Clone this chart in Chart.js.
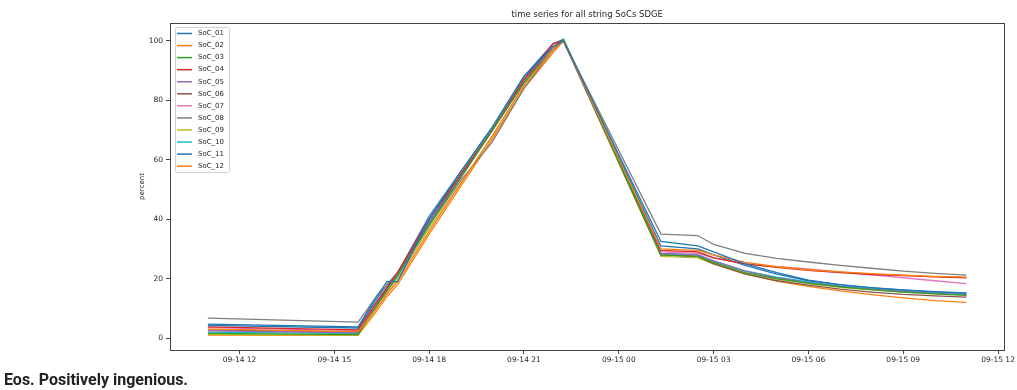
<!DOCTYPE html>
<html>
<head>
<meta charset="utf-8">
<script src="https://cdn.jsdelivr.net/npm/chart.js@4.4.0/dist/chart.umd.min.js"></script>
<style>
  html, body { margin: 0; padding: 0; background: #fff; }
  #wrap { position: relative; width: 1017px; height: 390px; }
  #footer { position: absolute; left: 4px; top: 370px; font: 700 16px Roboto, sans-serif; color: #222; }
</style>
</head>
<body>
<div id="wrap">
  <canvas id="socChart" width="1017" height="390"></canvas>
  <div id="footer">Eos. Positively ingenious.</div>
</div>
<script>
// timestamps (MM-DD HH:MM)
const times = ['09-14 11:00', '09-14 15:45', '09-14 16:20', '09-14 16:40', '09-14 17:00', '09-14 18:00',
    '09-14 19:00', '09-14 20:00', '09-14 21:00', '09-14 21:55', '09-14 22:15', '09-15 01:20',
    '09-15 02:30', '09-15 03:00', '09-15 04:00', '09-15 05:00', '09-15 06:00', '09-15 07:00',
    '09-15 08:00', '09-15 09:00', '09-15 10:00', '09-15 11:00'];

const tickLabels = ['09-14 12', '09-14 15', '09-14 18', '09-14 21', '09-15 00', '09-15 03', '09-15 06', '09-15 09', '09-15 12'];
const yTicks = [0, 20, 40, 60, 80, 100];

const soc01 = [4.7, 3.8, 14, 19, 19, 40, 56, 71, 88, 98, 100, 32.5, 31, 29, 25, 22, 19.5, 18, 17, 16.2, 15.6, 15.2];
const soc02 = [3.0, 2.2, 10, 15, 19, 36, 52, 68, 85, 97, 100, 30, 29.5, 28, 25.5, 24, 23, 22.3, 21.7, 21.2, 20.8, 20.5];
const soc03 = [1.6, 1.2, 11, 16, 21, 38, 54, 70, 86, 97, 100.5, 28, 27.5, 25.5, 22, 20, 18.5, 17.2, 16.3, 15.5, 14.9, 14.4];
const soc04 = [3.8, 2.8, 12, 17, 22, 40, 55, 70, 87, 99, 100, 29.5, 29, 27, 25, 23.8, 22.8, 22, 21.4, 21, 20.6, 20.3];
const soc05 = [2.4, 1.8, 11, 16, 21, 39, 54, 70, 87, 98, 100, 28.5, 28, 26, 22.5, 20.3, 18.7, 17.4, 16.5, 15.7, 15.1, 14.6];
const soc06 = [2.8, 2.0, 11, 17, 22, 39, 55, 70, 86, 98, 100, 28, 27.5, 25, 21.5, 19.3, 17.8, 16.5, 15.5, 14.7, 14.2, 13.8];
const soc07 = [3.5, 2.5, 12, 17, 22, 39, 54, 70, 86, 99, 100, 29, 28.5, 27, 25, 24, 23.3, 22.3, 21.3, 20.3, 19.3, 18.3];
const soc08 = [6.7, 5.4, 14, 18, 22, 38, 53, 66, 84, 97, 100, 35, 34.5, 31.5, 28.5, 26.8, 25.6, 24.5, 23.5, 22.5, 21.8, 21.2];
const soc09 = [1.2, 1.0, 10, 15, 20, 37, 52, 68, 85, 97, 100, 27.5, 27, 25, 21.8, 19.8, 18.3, 17.1, 16.2, 15.5, 14.9, 14.5];
const soc10 = [2.0, 1.5, 11, 16, 21, 38, 55, 70, 86, 97, 100, 28.5, 28, 26, 22.6, 20.5, 18.9, 17.6, 16.7, 15.9, 15.3, 14.9];
const soc11 = [4.3, 3.4, 13, 18, 22, 41, 56, 71, 88, 99, 100.5, 31, 30, 28, 24.5, 21.5, 19.3, 17.9, 16.9, 16.1, 15.5, 15.1];
const soc12 = [1.0, 0.9, 9, 14, 18, 35, 51, 67, 84, 96, 100, 28, 27.5, 25.5, 21.7, 19.2, 17.4, 15.9, 14.6, 13.5, 12.6, 12];

const seriesNames = ['SoC_01', 'SoC_02', 'SoC_03', 'SoC_04', 'SoC_05', 'SoC_06', 'SoC_07', 'SoC_08', 'SoC_09', 'SoC_10', 'SoC_11', 'SoC_12'];
const seriesValues = [soc01, soc02, soc03, soc04, soc05, soc06, soc07, soc08, soc09, soc10, soc11, soc12];

// matplotlib tab10 cycle
const palette = ['#1f77b4', '#ff7f0e', '#2ca02c', '#d62728', '#9467bd', '#8c564b', '#e377c2', '#7f7f7f', '#bcbd22', '#17becf'];

// hours since 09-14 00:00
function toHours(s) {
    const [md, hm] = s.split(' ');
    const day = parseInt(md.split('-')[1], 10) - 14;
    const [h, m] = (hm.includes(':') ? hm : hm + ':00').split(':').map(Number);
    return day * 24 + h + m / 60;
}

const xs = times.map(toHours);
const tickPos = tickLabels.map(toHours);

const datasets = seriesNames.map((name, i) => ({
    label: name,
    data: seriesValues[i].map((v, j) => ({ x: xs[j], y: v })),
    borderColor: palette[i % 10],
    borderWidth: 1.3,
    pointRadius: 0,
    tension: 0,
    fill: false
}));

const txt = '#262626';
const axisFont = { family: 'DejaVu Sans', size: 7.5 };

// frame around the axes + legend box inside plot (matplotlib look)
const mplDecor = {
    id: 'mplDecor',
    afterDraw(chart) {
        const { ctx, chartArea: a } = chart;
        ctx.save();
        ctx.strokeStyle = '#444';
        ctx.lineWidth = 1;
        ctx.strokeRect(Math.round(a.left) + 0.5, Math.round(a.top) + 0.5, Math.round(a.right - a.left), Math.round(a.bottom - a.top));

        // legend
        const bx = a.left + 5, by = a.top + 4, bw = 54, bh = 145;
        ctx.fillStyle = 'rgba(255,255,255,0.85)';
        ctx.strokeStyle = '#d0d0d0';
        ctx.beginPath();
        ctx.roundRect(bx + 0.5, by + 0.5, bw, bh, 2);
        ctx.fill();
        ctx.stroke();
        ctx.font = '7px "DejaVu Sans"';
        ctx.textBaseline = 'middle';
        chart.data.datasets.forEach((ds, i) => {
            const y = by + 6.5 + i * 12.06;
            ctx.strokeStyle = ds.borderColor;
            ctx.lineWidth = 1.5;
            ctx.beginPath();
            ctx.moveTo(bx + 2, y);
            ctx.lineTo(bx + 17, y);
            ctx.stroke();
            ctx.fillStyle = txt;
            ctx.fillText(ds.label, bx + 23, y);
        });
        ctx.restore();
    }
};

new Chart(document.getElementById('socChart'), {
    type: 'line',
    data: { datasets },
    plugins: [mplDecor],
    options: {
        responsive: false,
        animation: false,
        layout: { padding: { left: 130, right: 9, top: 0, bottom: 0 } },
        plugins: {
            legend: { display: false },
            tooltip: { enabled: false },
            title: {
                display: true,
                text: 'time series for all string SoCs SDGE',
                color: txt,
                fullSize: false,
                font: { family: 'DejaVu Sans', size: 8.5, weight: 'normal' },
                padding: { top: 10, bottom: 2.8 }
            }
        },
        scales: {
            x: {
                type: 'linear',
                min: 9.8,
                max: 36.2,
                afterBuildTicks: (s) => { s.ticks = tickPos.map(v => ({ value: v })); },
                afterFit: (s) => { s.height = 40; },
                ticks: {
                    color: txt,
                    font: axisFont,
                    maxRotation: 0,
                    padding: 2,
                    callback: (v) => tickLabels[tickPos.indexOf(v)]
                },
                grid: { drawOnChartArea: false, drawTicks: true, tickLength: 4, tickColor: '#444' },
                border: { color: '#444' }
            },
            y: {
                min: -4,
                max: 106,
                afterBuildTicks: (s) => { s.ticks = yTicks.map(v => ({ value: v })); },
                afterFit: (s) => { s.width = 40; },
                ticks: { color: txt, font: axisFont, padding: 3 },
                grid: { drawOnChartArea: false, drawTicks: true, tickLength: 4, tickColor: '#444' },
                border: { color: '#444' },
                title: {
                    display: true,
                    text: 'percent',
                    color: txt,
                    font: { family: 'DejaVu Sans', size: 7 },
                    padding: { top: 8, bottom: 0 }
                }
            }
        }
    }
});
</script>
</body>
</html>
